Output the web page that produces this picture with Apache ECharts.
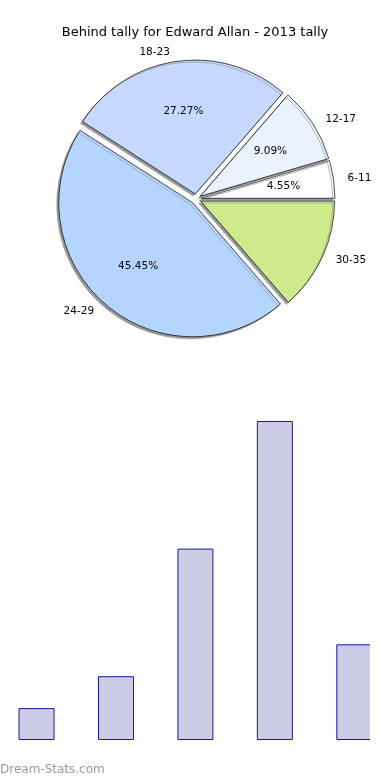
<!DOCTYPE html>
<html>
<head>
<meta charset="utf-8">
<script src="https://cdn.jsdelivr.net/npm/echarts@6/dist/echarts.min.js"></script>
<style>
html,body{margin:0;padding:0;background:#fff;}
#c{width:390px;height:780px;}
</style>
</head>
<body>
<div id="c"></div>
<script>
const titleText = 'Behind tally for Edward Allan - 2013 tally';
const categories = ['6-11', '12-17', '18-23', '24-29', '30-35'];
const counts = [1, 2, 6, 10, 3];
const pctLabels = ['4.55%', '9.09%', '27.27%', '45.45%', ''];
const sliceColors = ['#ffffff', '#eaf2ff', '#c5d9ff', '#b5d5ff', '#cfea8b'];
const watermark = 'Dream-Stats.com';

const chart = echarts.init(document.getElementById('c'), null, {renderer: 'canvas'});
const FONT = '"DejaVu Sans", sans-serif';
const R = 134;
const CENTER = [196, 199];
const OFFSET = 5;

const sliceData = categories.map((c, i) => ({
  name: c, value: counts[i], selected: true,
  itemStyle: {color: sliceColors[i]}
}));
const pctData = categories.map((c, i) => ({
  name: c, value: counts[i], selected: true,
  label: {formatter: pctLabels[i]}
}));

const common = {
  type: 'pie', center: CENTER, startAngle: 0, clockwise: false,
  selectedMode: 'multiple', selectedOffset: OFFSET, animation: false,
  avoidLabelOverlap: false, emphasis: {disabled: true}, select: {disabled: false},
};

chart.setOption({
  animation: false,
  title: {
    text: titleText, left: 'center', top: 21,
    textStyle: {fontFamily: FONT, fontSize: 13, fontWeight: 'normal', color: '#000'}
  },
  grid: {left: 0, right: 19, top: 421, bottom: 40},
  xAxis: {type: 'value', min: -0.46, max: 4.21, show: false},
  yAxis: {type: 'value', min: 0, max: 10, show: false},
  graphic: [{
    type: 'text', left: 0, top: 764,
    style: {text: watermark, font: '12px ' + FONT, fill: '#999999'}
  }, {
    type: 'rect', z: 100, silent: true,
    shape: {x: 370, y: 410, width: 20, height: 340},
    style: {fill: '#ffffff'}
  }],
  series: [
    Object.assign({}, common, {
      radius: [0, R],
      data: sliceData,
      itemStyle: {
        borderColor: '#000', borderWidth: 0.7,
        shadowColor: '#9a9a9a', shadowOffsetX: -2, shadowOffsetY: 2, shadowBlur: 0
      },
      label: {
        show: true, position: 'outside', color: '#000',
        fontFamily: FONT, fontSize: 10.5, distanceToLabelLine: 0
      },
      labelLine: {show: false, length: Math.round(R * 0.07), length2: 5},
      select: {itemStyle: {borderColor: '#000', borderWidth: 0.7}}
    }),
    Object.assign({}, common, {
      radius: [0, R * 1.2],
      silent: true,
      data: pctData,
      itemStyle: {color: 'rgba(0,0,0,0)', borderWidth: 0},
      label: {
        show: true, position: 'inside', color: '#000',
        fontFamily: FONT, fontSize: 10.5
      },
      labelLine: {show: false},
      select: {itemStyle: {color: 'rgba(0,0,0,0)', borderWidth: 0}}
    }),
    {
      type: 'bar',
      data: counts.map((v, i) => [i, v]),
      barWidth: 36,
      clip: true,
      itemStyle: {color: '#ccccE5', borderColor: '#1a1a9a', borderWidth: 1},
      emphasis: {disabled: true}
    }
  ]
});
</script>
</body>
</html>
